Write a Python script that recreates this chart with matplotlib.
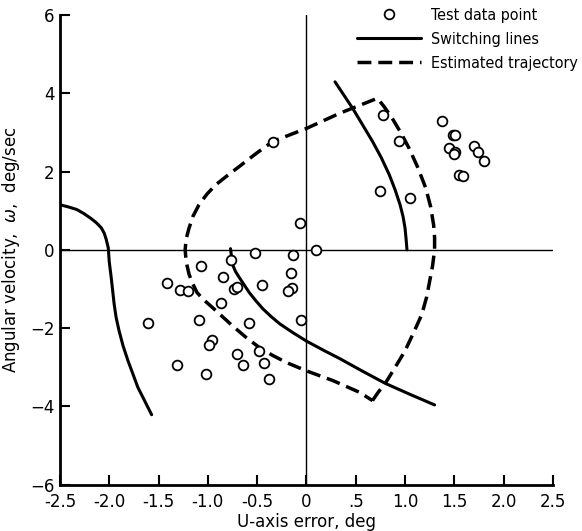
import numpy as np
import matplotlib.pyplot as plt

# test data points (U-axis error, deg ; angular velocity, deg/sec)
test_x = [-1.07, -0.76, -0.52, -0.14, -1.41, -1.28, -1.20, -0.85, -0.73, -0.70,
          -0.45, -0.16, -0.15, -0.19, -0.05, -0.87, -1.09, -1.61, -0.58, -0.96,
          -0.99, -0.70, -0.48, -1.31, -0.64, -0.43, -1.02, -0.38, -0.34, -0.07,
          0.10, 0.78, 0.94, 0.75, 1.05, 1.38, 1.49, 1.51, 1.45, 1.51,
          1.50, 1.70, 1.74, 1.80, 1.55, 1.59]
test_y = [-0.41, -0.25, -0.09, -0.12, -0.84, -1.03, -1.05, -0.69, -1.00, -0.96,
          -0.90, -0.60, -0.98, -1.05, -1.80, -1.35, -1.78, -1.86, -1.86, -2.30,
          -2.44, -2.65, -2.59, -2.95, -2.93, -2.90, -3.18, -3.31, 2.75, 0.68,
          0.0, 3.45, 2.79, 1.51, 1.32, 3.28, 2.94, 2.92, 2.60, 2.50,
          2.44, 2.64, 2.51, 2.27, 1.91, 1.89]

# switching lines
sw1_x = [-2.50, -2.42, -2.33, -2.26, -2.19, -2.13, -2.08, -2.05, -2.03, -2.01,
         -2.00, -1.98, -1.965, -1.95, -1.93, -1.90, -1.86, -1.81, -1.76, -1.71,
         -1.64, -1.57]
sw1_y = [1.15, 1.10, 1.03, 0.93, 0.81, 0.69, 0.56, 0.42, 0.26, 0.05,
         -0.30, -0.71, -1.05, -1.39, -1.73, -2.07, -2.45, -2.83, -3.17, -3.51,
         -3.86, -4.21]

sw2_x = [0.29, 0.38, 0.47, 0.57, 0.67, 0.76, 0.84, 0.90, 0.95, 0.98, 1.00, 1.01, 1.02]
sw2_y = [4.29, 3.95, 3.61, 3.19, 2.77, 2.35, 1.92, 1.53, 1.15, 0.85, 0.56, 0.30, 0.0]

sw3_x = [-0.77, -0.76, -0.75, -0.72, -0.68, -0.63, -0.58, -0.51, -0.44, -0.36,
         -0.27, -0.14, 0.0, 0.17, 0.34, 0.57, 0.80, 1.05, 1.30]
sw3_y = [0.03, -0.17, -0.37, -0.55, -0.71, -0.90, -1.09, -1.31, -1.51, -1.70,
         -1.89, -2.11, -2.33, -2.56, -2.78, -3.10, -3.41, -3.69, -3.96]

# estimated trajectory
traj_x = [0.67, 0.73, 0.80, 0.90, 1.00, 1.09, 1.17, 1.22, 1.25, 1.28, 1.30,
          1.30, 1.29, 1.26, 1.21, 1.13, 1.04, 0.96, 0.87, 0.79, 0.72,
          0.34, 0.0, -0.34, -0.51, -0.68, -0.80, -0.92, -1.01, -1.09, -1.15,
          -1.19, -1.22, -1.23, -1.22, -1.19, -1.15, -1.11, -1.04, -0.95, -0.85,
          -0.75, -0.62, -0.48, -0.34, -0.20, 0.0, 0.27, 0.54, 0.67]
traj_y = [-3.85, -3.63, -3.41, -3.00, -2.58, -2.10, -1.65, -1.20, -0.80, -0.40, 0.0,
          0.32, 0.64, 1.10, 1.58, 2.10, 2.60, 2.98, 3.36, 3.65, 3.87,
          3.49, 3.10, 2.77, 2.46, 2.13, 1.90, 1.66, 1.42, 1.15, 0.86,
          0.56, 0.28, 0.0, -0.30, -0.63, -0.88, -1.09, -1.28, -1.48, -1.71,
          -1.94, -2.22, -2.49, -2.70, -2.88, -3.09, -3.34, -3.64, -3.85]

xticks = [-2.5, -2.0, -1.5, -1.0, -0.5, 0, 0.5, 1.0, 1.5, 2.0, 2.5]
xtick_labels = ['-2.5', '-2.0', '-1.5', '-1.0', '-0.5', '0', '.5', '1.0', '1.5', '2.0', '2.5']
yticks = [-6, -4, -2, 0, 2, 4, 6]

plt.rcParams['font.family'] = ['DejaVu Sans']

fig = plt.figure(figsize=(5.82, 5.31), dpi=100)
ax = fig.add_axes([0.103, 0.087, 0.847, 0.885])

ax.axhline(0, color='black', lw=1.0, zorder=1)
ax.axvline(0, color='black', lw=1.0, zorder=1)

for xs, ys in [(sw1_x, sw1_y), (sw2_x, sw2_y)]:
    ax.plot(xs, ys, color='black', lw=2.2, solid_capstyle='round',
            solid_joinstyle='round')
ax.plot(sw3_x, sw3_y, color='black', lw=2.2, solid_capstyle='round',
        solid_joinstyle='round', label='Switching lines')
ax.plot(traj_x, traj_y, color='black', lw=2.5, linestyle=(0, (4, 2)),
        dash_joinstyle='round', label='Estimated trajectory')
ax.plot(test_x, test_y, linestyle='none', marker='o', markersize=7,
        markerfacecolor='white', markeredgecolor='black', markeredgewidth=1.3,
        label='Test data point', zorder=3)

ax.set_xlim(-2.5, 2.5)
ax.set_ylim(-6, 6)
ax.set_xticks(xticks)
ax.set_xticklabels(xtick_labels)
ax.set_yticks(yticks)
ax.tick_params(direction='in', length=7, width=1.5, labelsize=12)
ax.tick_params(axis='x', pad=6)
ax.tick_params(axis='y', pad=4)
ax.spines['top'].set_visible(False)
ax.spines['right'].set_visible(False)
ax.spines['left'].set_linewidth(2)
ax.spines['bottom'].set_linewidth(2)

ax.set_xlabel('U-axis error, deg', fontsize=12, labelpad=1)
ax.set_ylabel('Angular velocity,  $\\omega$,  deg/sec', fontsize=12, labelpad=6)

handles, labels = ax.get_legend_handles_labels()
order = [2, 0, 1]
ax.legend([handles[i] for i in order], [labels[i] for i in order],
          loc='upper right', bbox_to_anchor=(1.07, 1.035), frameon=False,
          prop={'family': 'DejaVu Sans', 'stretch': 'condensed', 'size': 11.5},
          handlelength=4.0, labelspacing=0.55, handletextpad=0.6,
          borderaxespad=0.2)

plt.savefig('out.png', dpi=100)
plt.close()
